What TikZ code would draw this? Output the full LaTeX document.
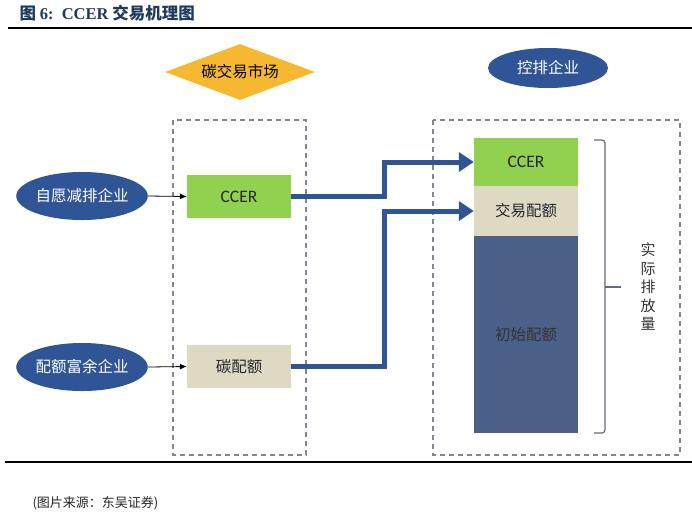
\documentclass[tikz,border=0pt]{standalone}
\usepackage{fontspec}
\setmainfont{Carlito}
\newfontfamily\cjk{Noto Sans CJK SC}
\newfontfamily\ttlserif{Liberation Serif}
\usetikzlibrary{arrows.meta,shapes.geometric}
\definecolor{ccNavy}{HTML}{2F5597}
\definecolor{ccSlate}{HTML}{4A6088}
\definecolor{ccGreen}{HTML}{92D050}
\definecolor{ccBeige}{HTML}{DDD9C3}
\definecolor{ccGold}{HTML}{F7B831}
\definecolor{ccGray}{HTML}{7F8792}
\definecolor{ccTitle}{HTML}{1F3A60}
\tikzset{
  cc rule/.style={draw=black, line width=2pt},
  cc frame/.style={draw=ccGray, line width=1.4pt, dash pattern=on 5pt off 4pt},
  cc firm/.style={ellipse, fill=ccNavy, text=white, minimum width=120pt, minimum height=48pt, inner sep=0pt, font=\cjk\fontsize{15.5}{17}\selectfont},
  cc block/.style={minimum width=104pt, inner sep=0pt, font=\cjk\fontsize{15.5}{17}\selectfont, text=black!85},
  cc thin/.style={draw=black, line width=0.8pt, -{Latex[length=7pt,width=6pt]}},
  cc flow/.style={draw=ccNavy, line width=5pt, -{Triangle[length=15pt,width=19pt]}},
  cc brace/.style={draw=ccGray!80!black, line width=1.2pt, rounded corners=3pt},
}

\begin{document}
\begin{tikzpicture}[x=1pt,y=-1pt]
\useasboundingbox (0,0) rectangle (692,515);
% title and rules
\node[anchor=west, text=ccTitle, font=\cjk\bfseries\fontsize{16.5}{18}\selectfont] (title) at (16,13)
  {图 {\ttlserif\bfseries 6:}\enspace{\ttlserif\bfseries CCER} 交易机理图};
\draw[cc rule] (8,28) -- (692,28);
\draw[cc rule] (5,462) -- (692,462);
% market and controlled firms
\node[diamond, aspect=2.7, fill=ccGold, minimum width=150pt, minimum height=56pt, inner sep=0pt,
  font=\cjk\fontsize{15.5}{17}\selectfont] (market) at (240,72) {碳交易市场};
\node[cc firm, minimum width=120pt, minimum height=40pt] (ctrl) at (548,68) {控排企业};
% dashed frames
\draw[cc frame] (173,120) rectangle (306,455);
\draw[cc frame] (433,120) rectangle (680,455);
% left column
\node[cc firm] (vol) at (82,196) {自愿减排企业};
\node[cc firm] (surplus) at (82,367) {配额富余企业};
\node[cc block, fill=ccGreen, minimum height=43pt, font=\fontsize{17.5}{19}\selectfont] (lccer) at (239,196.5) {CCER};
\node[cc block, fill=ccBeige, minimum height=43pt] (lquota) at (239,366.5) {碳配额};
\draw[cc thin] (vol.east) -- (lccer.west);
\draw[cc thin] (surplus.east) -- (lquota.west);
% right stack
\node[cc block, fill=ccGreen, minimum height=48pt, font=\fontsize{17.5}{19}\selectfont] (rccer) at (526,162) {CCER};
\node[cc block, fill=ccBeige, minimum height=50pt] (rtrade) at (526,211) {交易配额};
\node[cc block, fill=ccSlate, minimum height=197pt, text=black!80] (rinit) at (526,334.5) {初始配额};
% flows
\draw[cc flow] (lccer.east) -- ++(93,0) |- (rccer.west);
\draw[cc flow] (lquota.east) -- ++(93,0) |- (rtrade.west);
% actual emissions bracket
\draw[cc brace] (594,140) -- (605,140) -- (605,433) -- (594,433);
\draw[cc brace] (605,287) -- (621,287);
\node[font=\cjk\fontsize{15}{18.5}\selectfont, align=center, text=black!80] (actual) at (648,287) {实\\际\\排\\放\\量};
% source
\node[anchor=west, font=\cjk\fontsize{13}{15}\selectfont, text=black!85] (src) at (29,503) {(图片来源：东吴证券)};
\end{tikzpicture}
\end{document}
